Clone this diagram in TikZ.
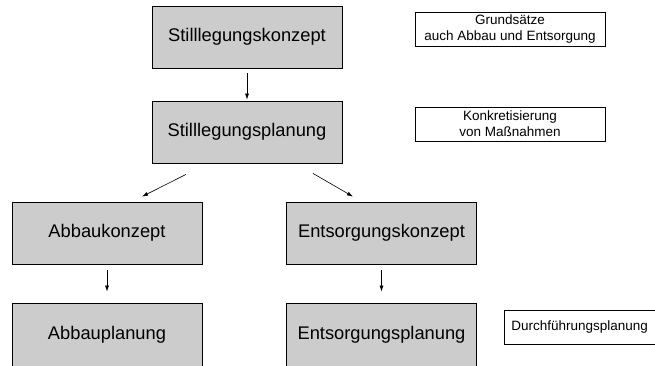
\documentclass[tikz,border=0pt]{standalone}
\usepackage{fontspec}
\setmainfont{Liberation Sans}
\usetikzlibrary{arrows.meta}
\begin{document}
\begin{tikzpicture}[x=1pt,y=-1pt,
    box/.style={draw,line width=0.8pt,fill=gray!40,minimum width=190pt,minimum height=62pt,
      inner sep=0pt,font=\fontsize{18.3}{22}\selectfont},
    lowbox/.style={box,minimum height=64pt},
    note/.style={draw,line width=0.8pt,fill=white,minimum width=190pt,minimum height=34pt,
      inner sep=0pt,align=center,font=\fontsize{13.5}{16}\selectfont},
    >={Latex[length=6pt,width=4pt]}]
  \useasboundingbox (0,0) rectangle (655,365);
  \draw
    (247,37) node[box] (stillkonzept){Stilllegungskonzept}
    (247,132) node[box] (stillplan){Stilllegungsplanung}
    (107,233) node[box] (abbaukonzept){Abbaukonzept}
    (381.5,233) node[box] (entskonzept){Entsorgungskonzept}
    (107,335) node[lowbox] (abbauplan){Abbauplanung}
    (381.5,335) node[lowbox] (entsplan){Entsorgungsplanung}
    (510,29) node[note] (grund){Grundsätze\\auch Abbau und Entsorgung}
    (510,124) node[note] (konkret){Konkretisierung\\von Maßnahmen}
    (504,327) node[note,anchor=west,minimum width=0pt,inner xsep=7pt,text width=150pt,align=left] (durch){Durchführungsplanung};
  \begin{scope}[->,line width=0.6pt]
    \draw[shorten <=5pt,shorten >=1pt] (stillkonzept) to (stillplan);
    \draw ([xshift=-61pt,yshift=-11pt]stillplan.south) to ([xshift=35pt,yshift=5pt]abbaukonzept.north);
    \draw ([xshift=66pt,yshift=-10pt]stillplan.south) to ([xshift=-28.5pt,yshift=5pt]entskonzept.north);
    \draw[shorten <=6pt,shorten >=11pt] (abbaukonzept) to (abbauplan);
    \draw[shorten <=6pt,shorten >=11pt] (entskonzept) to (entsplan);
  \end{scope}
\end{tikzpicture}
\end{document}
